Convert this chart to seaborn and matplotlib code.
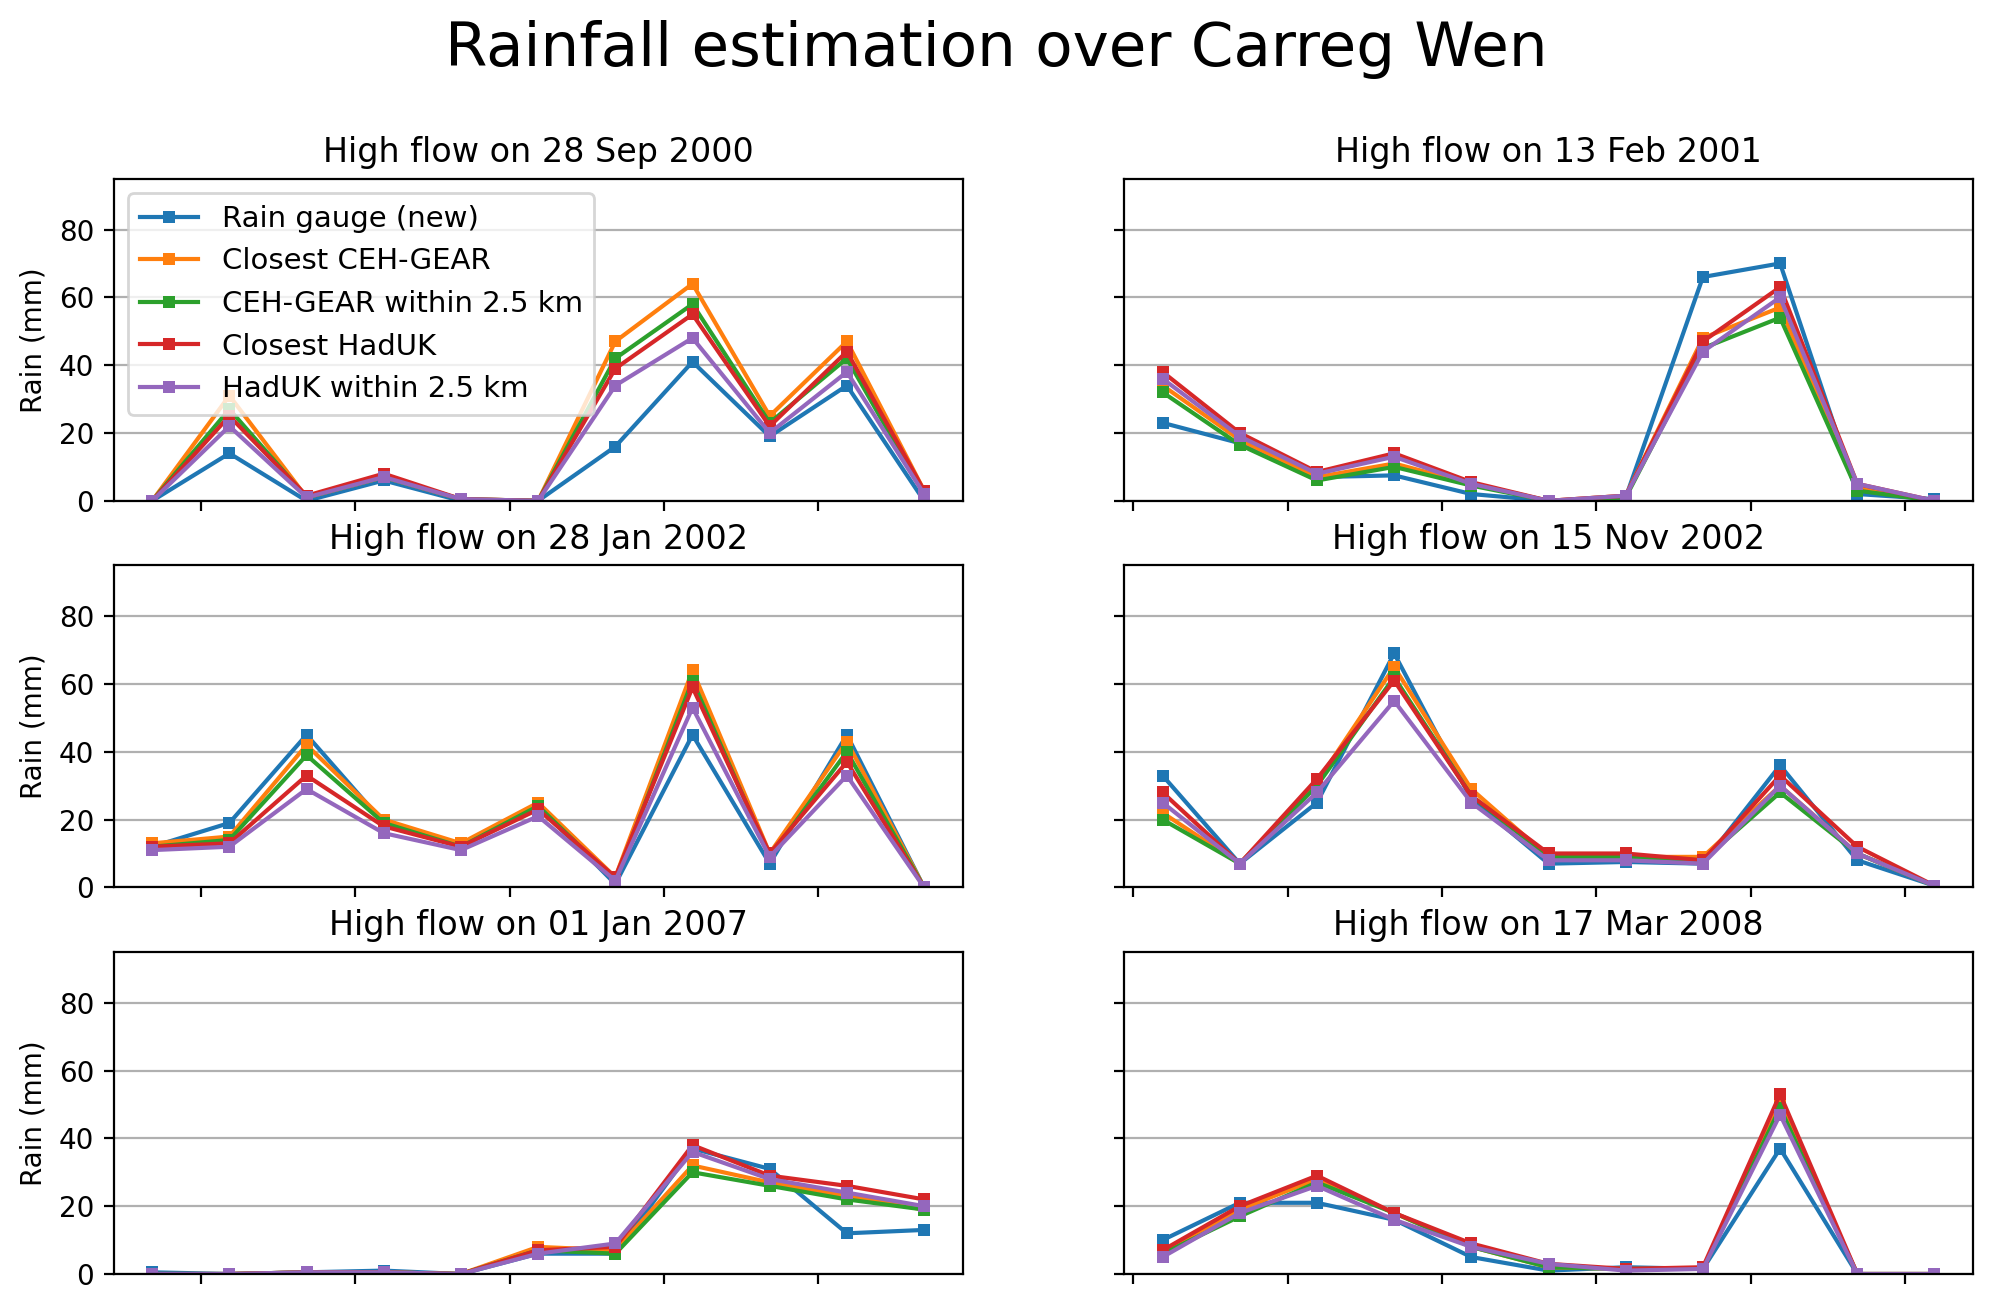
import numpy as np
from matplotlib import pyplot as plt
import seaborn as sns

titles = ['High flow on 28 Sep 2000', 'High flow on 13 Feb 2001',
          'High flow on 28 Jan 2002', 'High flow on 15 Nov 2002',
          'High flow on 01 Jan 2007', 'High flow on 17 Mar 2008']
series_names = ['Rain gauge (new)', 'Closest CEH-GEAR', 'CEH-GEAR within 2.5 km',
                'Closest HadUK', 'HadUK within 2.5 km']

gauge = [
    [0, 14, 0, 6, 0, 0, 16, 41, 19, 34, 0],
    [23, 17, 7, 7.5, 2, 0, 1, 66, 70, 2, 0.5],
    [12, 19, 45, 19, 12, 24, 1, 45, 7, 45, 0],
    [33, 7, 25, 69, 26, 7, 7.5, 7, 36, 8, 0.5],
    [0.5, 0, 0.5, 1, 0, 6, 6, 37, 31, 12, 13],
    [10, 21, 21, 16, 5, 1, 2, 1.5, 37, 0, 0],
]
ceh_closest = [
    [0, 31, 1, 7, 0.5, 0, 47, 64, 25, 47, 3],
    [34, 18, 7, 11, 5, 0, 1.5, 48, 57, 4, 0],
    [13, 15, 42, 20, 13, 25, 3, 64, 10, 43, 0],
    [22, 7, 31, 65, 29, 9, 9, 9, 30, 10, 0.5],
    [0, 0, 0.5, 0.5, 0, 8, 7, 32, 27, 23, 19],
    [6, 19, 28, 18, 8, 2, 1.5, 1.5, 50, 0, 0],
]
ceh_25 = [
    [0, 27, 1, 7, 0.5, 0, 42, 58, 23, 42, 2],
    [32, 16.5, 6, 10, 4.5, 0, 1, 45, 54, 3, 0],
    [12, 14, 39, 19, 12, 24, 2, 61, 9, 40, 0],
    [20, 7, 30, 62, 27, 9, 9, 8, 28, 10, 0.5],
    [0, 0, 0.5, 0.5, 0, 7, 6, 30, 26, 22, 19],
    [6, 17, 27, 18, 8, 2, 1.5, 1.5, 49, 0, 0],
]
haduk_closest = [
    [0, 25, 1.5, 8, 0.5, 0, 39, 55, 22, 44, 3],
    [38, 20, 8.5, 14, 5.5, 0, 1.5, 47, 63, 5, 0],
    [12, 13, 33, 18, 12, 23, 3, 59, 10, 37, 0],
    [28, 7, 32, 61, 27, 10, 10, 8, 33, 12, 0.5],
    [0, 0, 0.5, 0.5, 0, 7, 8, 38, 29, 26, 22],
    [7, 20, 29, 18, 9, 3, 1.5, 2, 53, 0, 0],
]
haduk_25 = [
    [0, 22, 1, 7, 0.5, 0, 34, 48, 20, 38, 2],
    [36, 19, 8, 13, 5, 0, 1.5, 44, 60, 5, 0],
    [11, 12, 29, 16, 11, 21, 2, 53, 9, 33, 0],
    [25, 7, 28, 55, 25, 8, 8, 7, 30, 10, 0.5],
    [0, 0, 0.5, 0.5, 0, 6, 9, 36, 28, 24, 20],
    [5, 18, 26, 16, 8, 3, 1, 1.5, 47, 0, 0],
]
all_series = [gauge, ceh_closest, ceh_25, haduk_closest, haduk_25]
colors = sns.color_palette('tab10', 5)

fig, axes = plt.subplots(3, 2, figsize=(9.965, 6.52), dpi=200, sharex='col', sharey=True)
fig.subplots_adjust(left=0.057, right=0.99, top=0.863, bottom=0.023, hspace=0.2, wspace=0.19)
axes = axes.flatten()
for i, ax in enumerate(axes):
    for name, data, c in zip(series_names, all_series, colors):
        sns.lineplot(x=np.arange(11), y=data[i], ax=ax, color=c, marker='s',
                     markersize=4, markeredgewidth=0, label=name if i == 0 else None)
    ax.set_title(titles[i], fontsize=12)
    ax.set_xlim(-0.5, 10.5)
    ax.set_ylim(0, 95)
    ax.set_yticks([0, 20, 40, 60, 80])
    ax.yaxis.grid(True, color='#b0b0b0')
    ax.set_axisbelow(True)
    offset = 0.63 if i % 2 == 0 else -0.38
    ax.set_xticks(offset + 2 * np.arange(5 if i % 2 == 0 else 6))
    ax.set_xticklabels([])
    if i % 2 == 0:
        ax.set_ylabel('Rain (mm)')
    if i != 0 and ax.get_legend():
        ax.get_legend().remove()
axes[0].legend(loc='upper left', fontsize=10.5)
fig.suptitle('Rainfall estimation over Carreg Wen', fontsize=22, y=0.985)
plt.savefig('out.png')
